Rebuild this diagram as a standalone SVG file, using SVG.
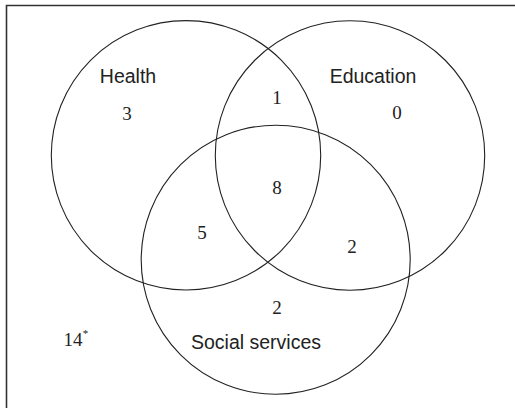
<svg xmlns="http://www.w3.org/2000/svg" width="515" height="408" viewBox="0 0 515 408">
<style>
.c{fill:none;stroke:#222;stroke-width:1.1}
.lab{font-family:"Liberation Sans",Arial,sans-serif;font-size:19.5px;fill:#222;text-anchor:middle}
.num{font-family:"Liberation Serif","Times New Roman",serif;font-size:19px;fill:#222;text-anchor:middle}
</style>
<rect width="515" height="408" fill="#fff"/>
<path d="M6.5,408 V5.5 H515" fill="none" stroke="#333" stroke-width="1.6"/>
<g id="health"><circle class="c" cx="186" cy="155.3" r="134.7"/><text class="lab" x="128" y="83">Health</text></g>
<g id="education"><circle class="c" cx="350" cy="155.5" r="134.7"/><text class="lab" x="373" y="83">Education</text></g>
<g id="social"><circle class="c" cx="275.7" cy="259.7" r="134.5"/><text class="lab" x="256" y="349">Social services</text></g>
<g id="counts">
<text class="num" x="127" y="120">3</text>
<text class="num" x="277" y="104">1</text>
<text class="num" x="397" y="119">0</text>
<text class="num" x="277" y="194">8</text>
<text class="num" x="202" y="239">5</text>
<text class="num" x="352" y="253">2</text>
<text class="num" x="277" y="314">2</text>
<text class="num" x="73" y="346">14</text>
<text class="num" x="85.5" y="337" style="font-size:11px">*</text>
</g>
<g id="connectors"/>
</svg>
